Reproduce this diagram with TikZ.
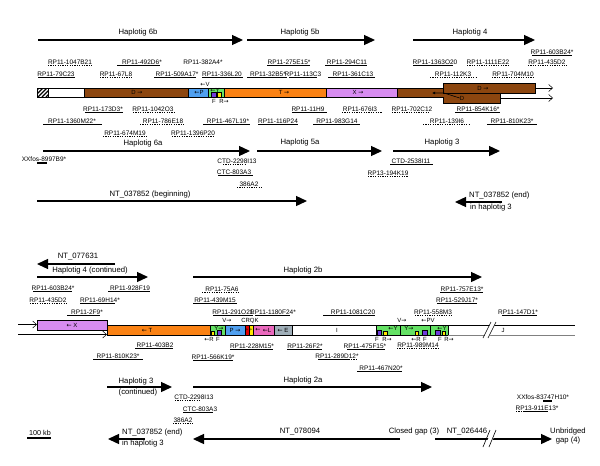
\documentclass[tikz,border=0pt]{standalone}
\usepackage{fontspec}
\setmainfont{Liberation Sans}
\newfontfamily\arrowfont{DejaVu Sans}
\usetikzlibrary{arrows.meta}

\definecolor{dbrown}{RGB}{140,70,15}
\definecolor{pblue}{RGB}{80,160,240}
\definecolor{lgreen}{RGB}{100,225,100}
\definecolor{orangeT}{RGB}{250,130,20}
\definecolor{violetX}{RGB}{215,140,240}
\definecolor{pinkKL}{RGB}{235,105,190}
\definecolor{grayE}{RGB}{160,175,185}
\definecolor{purpF}{RGB}{110,60,220}
\definecolor{yelR}{RGB}{255,230,0}
\definecolor{redC}{RGB}{230,0,0}

\newcommand{\toleft}{{\arrowfont\char"2190}}
\newcommand{\toright}{{\arrowfont\char"2192}}
% clone: name, x, y, underline from, underline to, line style, text
\newcommand{\clone}[7]{%
  \node[clone] (#1) at (#2,#3) {#7};
  \draw[#6] (#4,#3+3.5) -- (#5,#3+3.5);}

\begin{document}
\begin{tikzpicture}[x=1pt, y=-1pt,
    clone/.style={inner sep=0pt, font=\fontsize{6.5}{7}\selectfont},
    big/.style={inner sep=0pt, font=\fontsize{7.7}{9}\selectfont},
    gene/.style={inner sep=0pt, font=\fontsize{6}{7}\selectfont},
    solidline/.style={line width=1.1pt},
    dotline/.style={line width=1.4pt, dash pattern=on 1.1pt off 1.3pt},
    hapl/.style={line width=1.3pt, -{Triangle[length=11pt,width=10pt]}},
    seg/.style={draw, line width=0.4pt},
    opentip/.style={line width=0.5pt, -{Straight Barb[length=4pt,width=7pt]}}]
\useasboundingbox (0,0) rectangle (600,466);
\fill[white] (0,0) rectangle (600,466);

% ---------- upper part ----------
\coordinate (h6b-a) at (38,40);  \coordinate (h6b-b) at (243,40);
\coordinate (h5b-a) at (247,40); \coordinate (h5b-b) at (375,40);
\coordinate (h4-a) at (413,40);  \coordinate (h4-b) at (535,40);
\draw[hapl] (h6b-a) -- (h6b-b);
\draw[hapl] (h5b-a) -- (h5b-b);
\draw[hapl] (h4-a) -- (h4-b);
\node[big] (h6b) at (138,33) {Haplotig 6b};
\node[big] (h5b) at (300,33) {Haplotig 5b};
\node[big] (h4) at (470,33) {Haplotig 4};

\clone{603B24}{552}{52}{532}{572}{solidline}{RP11-603B24*}
\clone{1047B21}{70}{62}{48}{92}{dotline}{RP11-1047B21}
\clone{492D6}{142}{62}{117}{160}{solidline}{RP11-492D6*}
\node[clone] (382A4) at (203,62) {RP11-382A4*};
\clone{275E15}{289}{62}{267}{310}{solidline}{RP11-275E15*}
\clone{294C11}{347}{62}{325}{367}{solidline}{RP11-294C11}
\clone{1363O20}{435}{62}{413}{453}{solidline}{RP11-1363O20}
\clone{1111E22}{488}{62}{467}{510}{dotline}{RP11-1111E22}
\clone{435D2}{547}{62}{528}{567}{dotline}{RP11-435D2}
\clone{79C23}{56}{74}{38}{75}{solidline}{RP11-79C23}
\clone{67L8}{116}{74}{100}{132}{dotline}{RP11-67L8}
\clone{509A17}{177}{74}{154}{196}{solidline}{RP11-509A17*}
\clone{336L20}{222}{74}{202}{243}{solidline}{RP11-336L20}
\clone{32B5}{268}{74}{247}{287}{solidline}{RP11-32B5*}
\clone{113C3}{303}{74}{289}{317}{solidline}{RP11-113C3}
\clone{361C13}{353}{74}{328}{375}{solidline}{RP11-361C13}
\clone{112K3}{453}{74}{430}{477}{dotline}{RP11-112K3}
\clone{704M10}{513}{74}{492}{535}{dotline}{RP11-704M10}

% contig bar
\begin{scope}
  \clip (37,88) rectangle (48,97);
  \foreach \s in {26,30,...,50} \draw[line width=1.3pt] (\s,97) -- (\s+9,88);
\end{scope}
\draw[line width=0.4pt] (37,88) rectangle (48,97);
\draw[seg, fill=white] (48,88) rectangle (84,97);
\draw[seg, fill=dbrown] (84,88) rectangle (188,97);
\draw[seg, fill=pblue] (188,88) rectangle (208,97);
\draw[seg, fill=lgreen] (208,88) rectangle (224,97);
\draw[seg, fill=purpF] (211,92) rectangle (216,97);
\draw[seg, fill=yelR] (217.5,92.5) rectangle (221.5,97);
\draw[seg, fill=orangeT] (224,88) rectangle (326,97);
\draw[seg, fill=violetX] (326,88) rectangle (397,97);
\draw[seg, fill=dbrown] (443,93) rectangle (500,103);
\draw[seg, fill=dbrown] (397,88) rectangle (443,97);
\fill[dbrown] (443.3,93.3) rectangle (450,96.7);
\draw[seg, fill=dbrown] (443,83) rectangle (535,93);
\node[gene] (gD1) at (137,92.5) {D \toright};
\node[gene] (gP1) at (199,92.5) {\toleft P};
\node[gene] (gY1) at (215,90.2) {\toleft Y};
\node[gene] (gV1) at (205,84) {\toleft V};
\node[gene] (gF1) at (214,101.5) {F};
\node[gene] (gR1) at (224,101.5) {R\toright};
\node[gene] (gT1) at (284,92.5) {T \toright};
\node[gene] (gX1) at (358,92.5) {X \toright};
\node[gene] (gD2) at (483,88) {D \toright};
\node[gene] (gD3) at (462,98) {D};
\draw[line width=0.6pt, -{Latex[length=3pt,width=3pt]}] (gD3.west) -- (444,93) -- (432,93);
\coordinate (up-end) at (553,88);
\coordinate (lo-end) at (553,98);
\draw[opentip] (535,88) -- (up-end);
\draw[opentip] (500,98) -- (lo-end);

\clone{173D3}{103}{109}{85}{123}{solidline}{RP11-173D3*}
\clone{1042O3}{153}{109}{133}{175}{dotline}{RP11-1042O3}
\clone{11H9}{308}{109}{292}{327}{solidline}{RP11-11H9}
\clone{676I3}{360}{109}{342}{382}{dotline}{RP11-676I3}
\clone{702C12}{412}{109}{392}{430}{dotline}{RP11-702C12}
\clone{854K16}{478}{109}{455}{500}{solidline}{RP11-854K16*}
\clone{1360M22}{72}{121}{43}{102}{solidline}{RP11-1360M22*}
\clone{786E18}{163}{121}{140}{185}{dotline}{RP11-786E18}
\clone{467L19}{228}{121}{203}{250}{solidline}{RP11-467L19*}
\clone{116P24}{278}{121}{258}{298}{solidline}{RP11-116P24}
\clone{983G14}{337}{121}{313}{360}{solidline}{RP11-983G14}
\clone{139I6}{447}{121}{423}{470}{dotline}{RP11-139I6}
\clone{810K23}{512}{121}{487}{537}{solidline}{RP11-810K23*}
\clone{674M19}{125}{133}{103}{147}{dotline}{RP11-674M19}
\clone{1396P20}{193}{133}{172}{215}{dotline}{RP11-1396P20}

\coordinate (h6a-a) at (43,151);  \coordinate (h6a-b) at (250,151);
\coordinate (h5a-a) at (257,151); \coordinate (h5a-b) at (382,151);
\coordinate (h3-a) at (393,151);  \coordinate (h3-b) at (500,151);
\draw[hapl] (h6a-a) -- (h6a-b);
\draw[hapl] (h5a-a) -- (h5a-b);
\draw[hapl] (h3-a) -- (h3-b);
\node[big] (h6a) at (143,144) {Haplotig 6a};
\node[big] (h5a) at (300,143) {Haplotig 5a};
\node[big] (h3) at (442,143) {Haplotig 3};

\node[clone] (8997B9) at (44,159) {XXfos-8997B9*};
\draw[solidline] (37,163) -- (47,163);
\clone{2298I13}{237}{161}{223}{245}{dotline}{CTD-2298I13}
\clone{803A3}{234}{172}{218}{253}{solidline}{CTC-803A3}
\clone{386A2}{249}{184}{237}{262}{dotline}{386A2}
\clone{2538I11}{411}{161}{390}{433}{solidline}{CTD-2538I11}
\clone{194K19}{388}{173}{368}{408}{dotline}{RP13-194K19}

\coordinate (nt1-a) at (37,201);  \coordinate (nt1-b) at (307,201);
\coordinate (nt2-a) at (502,202); \coordinate (nt2-b) at (455,202);
\draw[hapl] (nt1-a) -- (nt1-b);
\draw[hapl] (nt2-a) -- (nt2-b);
\node[big] (nt1) at (150,195) {NT\_037852 (beginning)};
\node[big, anchor=west] (nt2) at (469,196) {NT\_037852 (end)};
\node[big, anchor=west] (nt2b) at (470,208) {in haplotig 3};

% ---------- lower part ----------
\coordinate (nt3-a) at (115,264); \coordinate (nt3-b) at (37,264);
\coordinate (h4c-a) at (37,277);  \coordinate (h4c-b) at (148,277);
\coordinate (h2b-a) at (193,277); \coordinate (h2b-b) at (482,277);
\draw[hapl] (nt3-a) -- (nt3-b);
\draw[hapl] (h4c-a) -- (h4c-b);
\draw[hapl] (h2b-a) -- (h2b-b);
\node[big] (nt3) at (78,257) {NT\_077631};
\node[big] (h4c) at (90,271) {Haplotig 4 (continued)};
\node[big] (h2b) at (303,271) {Haplotig 2b};

\clone{603B24b}{53}{288}{33}{72}{solidline}{RP11-603B24*}
\clone{928F19}{130}{288}{108}{150}{solidline}{RP11-928F19}
\clone{75A6}{222}{289}{202}{240}{dotline}{RP11-75A6}
\clone{757E13}{462}{289}{440}{483}{solidline}{RP11-757E13*}
\clone{435D2b}{48}{300}{30}{67}{dotline}{RP11-435D2}
\clone{69H14}{100}{300}{80}{115}{solidline}{RP11-69H14*}
\clone{439M15}{215}{300}{193}{237}{solidline}{RP11-439M15}
\clone{529J17}{457}{300}{437}{477}{solidline}{RP11-529J17*}
\clone{2F9}{87}{312}{67}{100}{solidline}{RP11-2F9*}
\clone{291O21}{233}{312}{213}{253}{solidline}{RP11-291O21}
\clone{1180F24}{273}{312}{255}{290}{solidline}{RP11-1180F24*}
\clone{1081C20}{353}{312}{323}{375}{solidline}{RP11-1081C20}
\clone{558M3}{433}{312}{415}{453}{dotline}{RP11-558M3}
\clone{147D1}{518}{312}{502}{537}{solidline}{RP11-147D1*}

% contig bar
\coordinate (in-up) at (18,324.5);
\coordinate (in-lo) at (18,334.5);
\draw[opentip] (in-up) -- (37,324.5);
\draw[opentip] (in-lo) -- (107,334.5);
\draw[seg, fill=violetX] (37,320) rectangle (107,330);
\draw[seg, fill=orangeT] (107,325) rectangle (210,335);
\draw[seg, fill=lgreen] (210,325) rectangle (225,335);
\draw[seg, fill=yelR] (211,331) rectangle (214,335);
\draw[seg, fill=purpF] (217,330) rectangle (221,335);
\draw[seg, fill=pblue] (225,325) rectangle (245,335);
\draw[seg, fill=redC] (245,325) rectangle (249,335);
\draw[seg, fill=yelR] (249,325) rectangle (253,335);
\draw[seg, fill=pinkKL] (253,325) rectangle (274,335);
\draw[seg, fill=grayE] (274,325) rectangle (292,335);
\draw[seg, fill=white] (292,325) rectangle (376,335);
\draw[seg, fill=lgreen] (376,325) rectangle (448,335);
\draw[seg, fill=purpF] (377,330) rectangle (381,335);
\draw[seg, fill=yelR] (383,331) rectangle (387,335);
\draw[seg, fill=yelR] (415,331) rectangle (418.5,335);
\draw[seg, fill=purpF] (422,330) rectangle (427,335);
\draw[seg, fill=purpF] (435,330) rectangle (440,335);
\draw[seg, fill=yelR] (442,331) rectangle (445.5,335);
\draw[line width=1.3pt] (400.5,325) -- (400.5,335);
\draw[line width=1.3pt] (430.5,325) -- (430.5,335);
\coordinate (j-end-up) at (575,325);
\coordinate (j-end-lo) at (575,335);
\draw[line width=0.5pt] (448,325) -- (j-end-up);
\draw[line width=0.8pt, gray] (448,335) -- (j-end-lo);
\fill[white] (484,338) -- (491,322) -- (496,322) -- (489,338) -- cycle;
\draw[line width=0.6pt] (483,338) -- (491,322);
\draw[line width=0.6pt] (488,338) -- (496,322);

\node[gene] (gX2) at (72,325) {\toleft\ X};
\node[gene] (gT2) at (147,330) {\toleft\ T};
\node[gene] (gY2) at (219,328.5) {Y\toright};
\node[gene] (gP2) at (235,330) {P \toright};
\node[gene] (gC2) at (247,330) {\scalebox{0.6}[1]{\toleft}};
\node[gene] (gR2) at (251,330) {\scalebox{0.6}[1]{\toleft}};
\node[gene] (gK2) at (258,330) {\toleft};
\node[gene] (gL2) at (267,330) {\toleft L};
\node[gene] (gE2) at (283,330) {\toleft\ E};
\node[gene] (gI2) at (337,330) {I};
\node[gene] (gY3) at (393,328.5) {\toleft Y};
\node[gene] (gY4) at (409,328.5) {Y\toright};
\node[gene] (gY5) at (442,328) {\toleft Y};
\node[gene] (gJ2) at (503,330) {J};
\node[gene] (gV2) at (227,320.5) {V\toright};
\node[gene] (gCRQK) at (250,320.5) {CRQK};
\node[gene] (gV3) at (402,320.5) {V\toright};
\node[gene] (gPV) at (428,320.5) {\toleft PV};
\node[gene] (gR3) at (209,339.5) {\toleft R};
\node[gene] (gF3) at (218,339.5) {F};
\node[gene] (gF4) at (377,339.5) {F};
\node[gene] (gR4) at (387,339.5) {R\toright};
\node[gene] (gR5) at (416,339.5) {\toleft R};
\node[gene] (gF5) at (425,339.5) {F};
\node[gene] (gF6) at (440,339.5) {F};
\node[gene] (gR6) at (449,339.5) {R\toright};

\clone{403B2}{155}{345}{135}{173}{solidline}{RP11-403B2}
\clone{228M15}{252}{346}{230}{273}{solidline}{RP11-228M15*}
\clone{26F2}{305}{346}{287}{322}{solidline}{RP11-26F2*}
\clone{475F15}{365}{346}{347}{385}{solidline}{RP11-475F15*}
\clone{989M14}{418}{345}{397}{438}{dotline}{RP11-989M14}
\clone{810K23b}{118}{356}{93}{143}{solidline}{RP11-810K23*}
\clone{566K19}{213}{357}{193}{233}{solidline}{RP11-566K19*}
\clone{289D12}{337}{356}{318}{350}{solidline}{RP11-289D12*}
\draw[dotline] (351,359.5) -- (358,359.5);
\clone{467N20}{381}{368}{357}{402}{solidline}{RP11-467N20*}

\coordinate (h3c-a) at (107,387); \coordinate (h3c-b) at (172,387);
\coordinate (h2a-a) at (193,387); \coordinate (h2a-b) at (432,387);
\draw[hapl] (h3c-a) -- (h3c-b);
\draw[hapl] (h2a-a) -- (h2a-b);
\node[big] (h3c) at (136,382) {Haplotig 3};
\node[big] (h3c2) at (138,393) {(continued)};
\node[big] (h2a) at (303,381) {Haplotig 2a};

\clone{2298I13b}{194}{397}{175}{200}{dotline}{CTD-2298I13}
\clone{803A3b}{200}{409}{183}{213}{solidline}{CTC-803A3}
\clone{386A2b}{183}{420}{173}{193}{dotline}{386A2}
\node[clone] (83747H10) at (543,397) {XXfos-83747H10*};
\draw[solidline] (543,401) -- (552,401);
\clone{911E13}{537}{408}{523}{548}{solidline}{RP13-911E13*}
\draw[dotline] (516,411.5) -- (522,411.5);

\node[clone, font=\fontsize{7.2}{8}\selectfont] (scale) at (40,433) {100 kb};
\draw[line width=1.3pt] (27,438) -- (51,438);

\coordinate (nt4-a) at (145,439); \coordinate (nt4-b) at (108,439);
\coordinate (nt5-a) at (400,439); \coordinate (nt5-b) at (193,439);
\coordinate (nt6-a) at (435,439); \coordinate (nt6-b) at (552,439);
\draw[hapl] (nt4-a) -- (nt4-b);
\draw[hapl] (nt5-a) -- (nt5-b);
\draw[hapl] (nt6-a) -- (nt6-b);
\fill[white] (485,445) -- (491,433) -- (496,433) -- (490,445) -- cycle;
\draw[line width=0.6pt] (483,447) -- (490,430);
\draw[line width=0.6pt] (489,447) -- (496,430);
\node[big, anchor=west] (nt4) at (122,433) {NT\_037852 (end)};
\node[big, anchor=west] (nt4b) at (122,444) {in haplotig 3};
\node[big] (nt5) at (300,432) {NT\_078094};
\node[big] (gap3) at (414,432) {Closed gap (3)};
\node[big] (nt6) at (467,432) {NT\_026446};
\node[big, align=center] (gap4) at (568,436) {Unbridged\\gap (4)};
\end{tikzpicture}
\end{document}
